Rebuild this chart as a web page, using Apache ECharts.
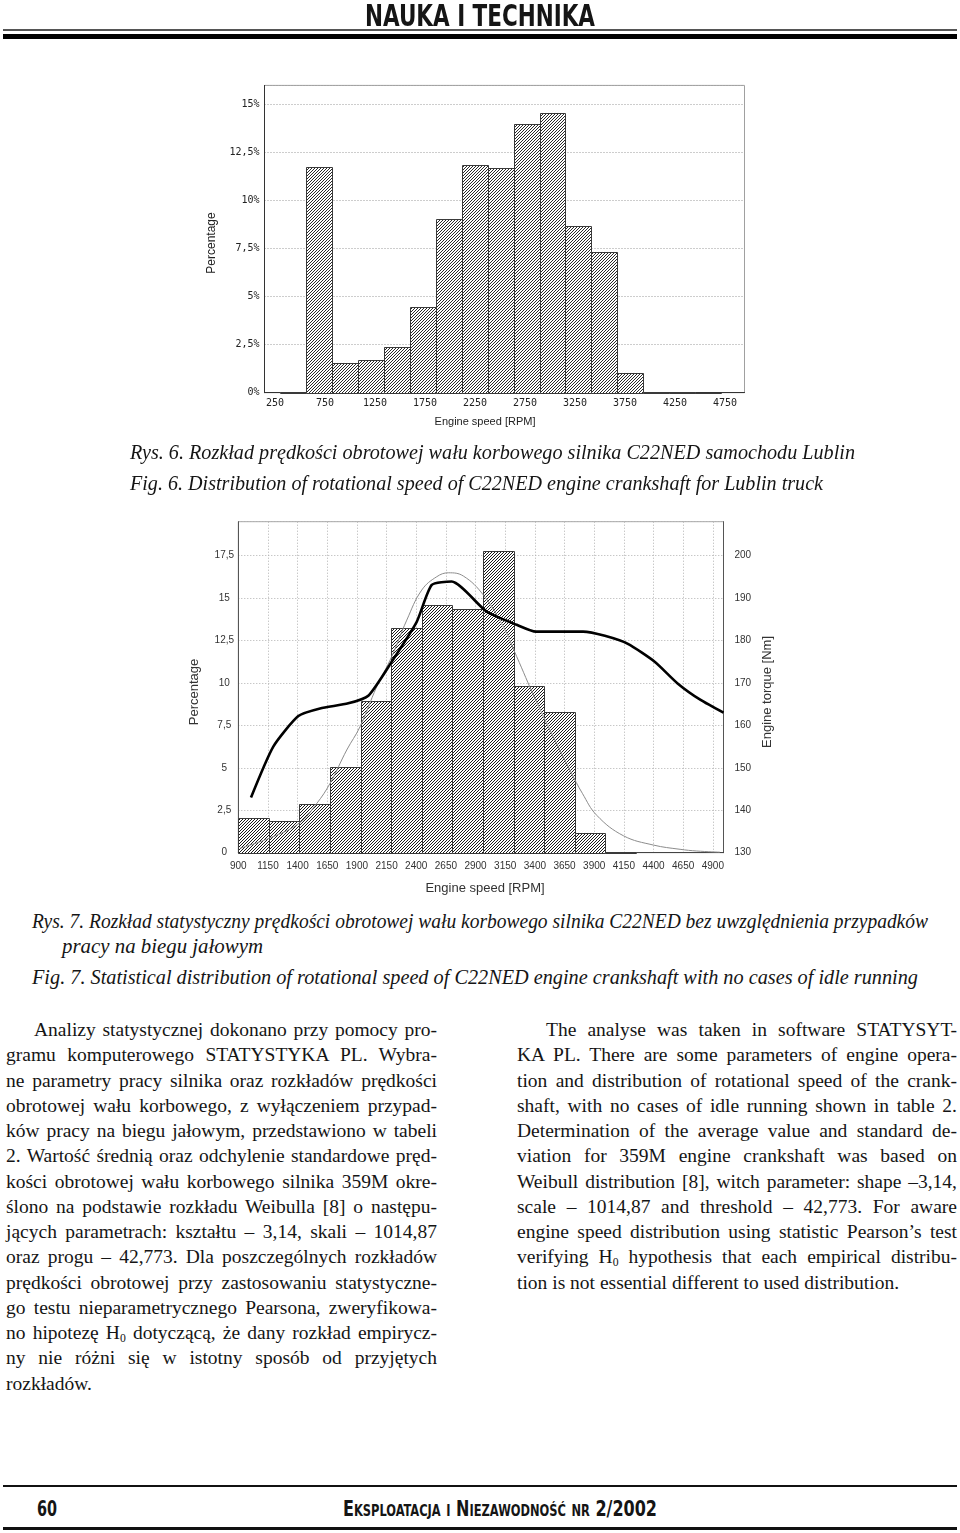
<!DOCTYPE html>
<html><head><meta charset="utf-8">
<script src="https://cdn.jsdelivr.net/npm/echarts@6/dist/echarts.min.js"></script>
<style>
html,body{margin:0;padding:0;background:#fff;}
#page{position:relative;width:960px;height:1533px;overflow:hidden;background:#fff;}
#chart{position:absolute;left:0;top:0;width:960px;height:905px;}
.t{position:absolute;white-space:nowrap;color:#151515;}
.t span{display:inline-block;transform-origin:0 50%;}
.t sub{font-size:60%;vertical-align:-0.25em;line-height:0;}
.rule{position:absolute;}
</style></head>
<body><div id="page"><div id="chart"></div></div>
<script>
// ---------- Fig. 6 data ----------
const fig6Edges = [300, 560, 820, 1080, 1340, 1600, 1855, 2115, 2375, 2635, 2895, 3150, 3410, 3670, 3930, 4190, 4445, 4705];
const fig6Share = [0.03, 11.74, 1.56, 1.70, 2.38, 4.46, 9.05, 11.84, 11.72, 13.98, 14.55, 8.67, 7.33, 1.01, 0.05, 0.02, 0.01];
const fig6XTicks = [250, 750, 1250, 1750, 2250, 2750, 3250, 3750, 4250, 4750];

// ---------- Fig. 7 data ----------
const fig7Edges = [900, 1158, 1415, 1673, 1931, 2189, 2447, 2705, 2963, 3221, 3479, 3737, 3995, 4253];
const fig7Share = [2.06, 1.87, 2.87, 5.03, 8.95, 13.21, 14.61, 14.33, 17.79, 9.80, 8.27, 1.14, 0.06];
const fitRpm = [914, 1159, 1412, 1561, 1673, 1814, 1926, 2067, 2193, 2320, 2446, 2573, 2671, 2797, 2966, 3134, 3247, 3400, 3550, 3700, 3800, 3922, 4146, 4399, 4624, 4765, 4960];
const fitShare = [0.26, 0.85, 1.73, 2.9, 4.08, 6.05, 7.42, 9.78, 11.55, 13.7, 15.47, 16.26, 16.49, 16.3, 15.18, 13.31, 11.55, 9.1, 6.9, 4.8, 3.5, 2.2, 1.0, 0.45, 0.2, 0.1, 0.03];
const torqueRpm = [1007, 1195, 1406, 1589, 1827, 1996, 2193, 2404, 2531, 2699, 2994, 3247, 3409, 3806, 3990, 4184, 4410, 4603, 4797, 4990];
const torqueNm = [143.0, 155.0, 162.2, 164.0, 165.2, 167.0, 175.0, 184.4, 193.1, 193.9, 186.8, 183.7, 182.1, 182.1, 181.1, 179.2, 175.0, 169.9, 166.0, 163.0];

function hatch(n, color) {
  const c = document.createElement('canvas'); c.width = n; c.height = n;
  const g = c.getContext('2d');
  g.fillStyle = '#fff'; g.fillRect(0, 0, n, n);
  g.fillStyle = color;
  for (let x = 0; x < n; x++) g.fillRect(x, n - 1 - x, 1, 1);
  return c;
}
const pat1 = hatch(3, '#2a2a2a');
const pat2 = hatch(3, '#1a1a1a');

function histRender(pat) {
  return function (params, api) {
    const a = api.coord([api.value(0), api.value(2)]);
    const b = api.coord([api.value(1), 0]);
    const x0 = Math.round(a[0]) + 0.5, x1 = Math.round(b[0]) + 0.5;
    const y0 = Math.round(a[1]) + 0.5, y1 = Math.round(b[1]) + 0.5;
    return {
      type: 'rect',
      shape: { x: x0, y: y0, width: x1 - x0, height: y1 - y0 },
      style: { fill: { image: pat, repeat: 'repeat' }, stroke: '#3a3a3a', lineWidth: 1 }
    };
  };
}
const comma = v => String(v).replace('.', ',');
const isStep = (v, s) => Math.abs(v / s - Math.round(v / s)) < 1e-6;

const dotted = { type: [1, 2], color: '#9a9a9a', width: 1 };
const sans = 'Liberation Sans, Arial, sans-serif';

const chart = echarts.init(document.getElementById('chart'), null, { renderer: 'canvas' });
chart.setOption({
  animation: false,
  grid: [
    { left: 264.5, top: 85.4, width: 480, height: 307.3, show: true, borderColor: '#a0a0a0', borderWidth: 1 },
    { left: 238.3, top: 521.7, width: 485.2, height: 331, show: true, borderColor: '#a8a8a8', borderWidth: 1 }
  ],
  xAxis: [
    { gridIndex: 0, type: 'value', min: 145, max: 4945,
      axisLine: { lineStyle: { color: '#333' } }, axisTick: { show: false }, splitLine: { show: false },
      axisLabel: { customValues: fig6XTicks, fontFamily: 'DejaVu Sans Mono', fontSize: 10, color: '#222', margin: 6,
        formatter: v => String(v) } },
    { gridIndex: 1, type: 'value', min: 900, max: 4990, interval: 250,
      axisLine: { lineStyle: { color: '#444' } }, axisTick: { show: false },
      splitLine: { show: true, lineStyle: { type: [1, 2], color: '#b0b0b0' } },
      axisLabel: { fontFamily: sans, fontSize: 10, color: '#333', margin: 9,
        formatter: v => (isStep(v - 900, 250) && v <= 4900) ? String(v) : '' } }
  ],
  yAxis: [
    { gridIndex: 0, type: 'value', min: 0, max: 16, interval: 2.5,
      axisLine: { show: true, lineStyle: { color: '#333' } }, axisTick: { show: false },
      splitLine: { show: true, lineStyle: dotted },
      axisLabel: { fontFamily: 'DejaVu Sans Mono', fontSize: 10, color: '#222', margin: 5,
        formatter: v => (isStep(v, 2.5) && v <= 15) ? comma(v) + '%' : '' } },
    { gridIndex: 1, type: 'value', min: 0, max: 19.5, interval: 2.5,
      axisLine: { show: true, lineStyle: { color: '#555' } }, axisTick: { show: false },
      splitLine: { show: true, lineStyle: { type: [1, 2], color: '#b0b0b0' } },
      axisLabel: { fontFamily: sans, fontSize: 10, color: '#333', margin: 14, align: 'center',
        formatter: v => (isStep(v, 2.5) && v <= 17.5) ? comma(v) : '' } },
    { gridIndex: 1, type: 'value', position: 'right', min: 130, max: 208, interval: 10,
      axisLine: { show: true, lineStyle: { color: '#555' } }, axisTick: { show: false },
      splitLine: { show: false },
      axisLabel: { fontFamily: sans, fontSize: 10, color: '#333', margin: 11,
        formatter: v => (isStep(v, 10) && v <= 200) ? String(v) : '' } }
  ],
  series: [
    { type: 'custom', xAxisIndex: 0, yAxisIndex: 0, renderItem: histRender(pat1),
      encode: { x: [0, 1], y: 2 },
      data: fig6Share.map((v, i) => [fig6Edges[i], fig6Edges[i + 1], v]) },
    { type: 'custom', xAxisIndex: 1, yAxisIndex: 1, renderItem: histRender(pat2),
      encode: { x: [0, 1], y: 2 },
      data: fig7Share.map((v, i) => [fig7Edges[i], fig7Edges[i + 1], v]) },
    { type: 'line', xAxisIndex: 1, yAxisIndex: 1, smooth: 0.4, symbol: 'none', z: 3,
      lineStyle: { color: '#8c8c8c', width: 1 },
      data: fitRpm.map((r, i) => [r, fitShare[i]]) },
    { type: 'line', xAxisIndex: 1, yAxisIndex: 2, smooth: 0.2, symbol: 'none', z: 4,
      lineStyle: { color: '#000', width: 2.6 },
      data: torqueRpm.map((r, i) => [r, torqueNm[i]]) }
  ],
  graphic: [
    { type: 'text', x: 212, y: 243, rotation: Math.PI / 2,
      style: { text: 'Percentage', font: '12px ' + sans, fill: '#222', align: 'center', verticalAlign: 'middle' } },
    { type: 'text', x: 485, y: 422,
      style: { text: 'Engine speed [RPM]', font: '11px ' + sans, fill: '#222', align: 'center', verticalAlign: 'middle' } },
    { type: 'text', x: 194, y: 692, rotation: Math.PI / 2,
      style: { text: 'Percentage', font: '13px ' + sans, fill: '#333', align: 'center', verticalAlign: 'middle' } },
    { type: 'text', x: 485, y: 888,
      style: { text: 'Engine speed [RPM]', font: '13px ' + sans, fill: '#333', align: 'center', verticalAlign: 'middle' } },
    { type: 'text', x: 767, y: 692, rotation: Math.PI / 2,
      style: { text: 'Engine torque [Nm]', font: '13px ' + sans, fill: '#333', align: 'center', verticalAlign: 'middle' } }
  ]
});

// ---------- page text ----------
const page = document.getElementById('page');
function rule(x, y, w, h, c) {
  const d = document.createElement('div'); d.className = 'rule';
  d.style.cssText = `left:${x}px;top:${y}px;width:${w}px;height:${h}px;background:${c}`;
  page.appendChild(d);
}
function line(html, x, y, w, font, lh, mode, extra) {
  const d = document.createElement('div'); d.className = 't';
  d.style.left = x + 'px'; d.style.top = (y - lh / 2) + 'px';
  d.style.lineHeight = lh + 'px'; d.style.font = font;
  if (extra) Object.assign(d.style, extra);
  const s = document.createElement('span'); s.innerHTML = html; d.appendChild(s);
  page.appendChild(d);
  const nat = s.getBoundingClientRect().width;
  if (mode === 'justify' && nat < w) {
    const n = (s.textContent.match(/ /g) || []).length;
    if (n) s.style.wordSpacing = ((w - nat) / n) + 'px';
  } else if (mode === 'fit' || nat > w) {
    s.style.transform = 'scaleX(' + (w / nat) + ')';
  }
}
const narrow = '"Liberation Sans Narrow", "DejaVu Sans Condensed", Arial, sans-serif';
const serif = '"Liberation Serif", "Times New Roman", serif';

// header
line('NAUKA I TECHNIKA', 365, 13, 230, 'bold 30px ' + narrow, 30, 'fit');
rule(3, 29, 954, 1.5, '#555');
rule(3, 34, 954, 5, '#000');

// captions
const capFont = 'italic 22px ' + serif;
line('Rys. 6. Rozkład prędkości obrotowej wału korbowego silnika C22NED samochodu Lublin', 130, 452, 725, capFont, 26, 'fit');
line('Fig. 6. Distribution of rotational speed of C22NED engine crankshaft for Lublin truck', 130, 483, 693, capFont, 26, 'fit');
line('Rys. 7. Rozkład statystyczny prędkości obrotowej wału korbowego silnika C22NED bez uwzględnienia przypadków', 32, 921, 896, capFont, 26, 'fit');
line('pracy na biegu jałowym', 62, 946, 201, capFont, 26, 'fit');
line('Fig. 7. Statistical distribution of rotational speed of C22NED engine crankshaft with no cases of idle running', 32, 977, 886, capFont, 26, 'fit');

// body columns
const bodyFont = '19.5px ' + serif;
const leftLines = [
  'Analizy statystycznej dokonano przy pomocy pro-',
  'gramu komputerowego STATYSTYKA PL. Wybra-',
  'ne parametry pracy silnika oraz rozkładów prędkości',
  'obrotowej wału korbowego, z wyłączeniem przypad-',
  'ków pracy na biegu jałowym, przedstawiono w tabeli',
  '2. Wartość średnią oraz odchylenie standardowe pręd-',
  'kości obrotowej wału korbowego silnika 359M okre-',
  'ślono na podstawie rozkładu Weibulla [8] o następu-',
  'jących parametrach: kształtu – 3,14, skali – 1014,87',
  'oraz progu – 42,773. Dla poszczególnych rozkładów',
  'prędkości obrotowej przy zastosowaniu statystyczne-',
  'go testu nieparametrycznego Pearsona, zweryfikowa-',
  'no hipotezę H<sub>0</sub> dotyczącą, że dany rozkład empirycz-',
  'ny nie różni się w istotny sposób od przyjętych',
  'rozkładów.'
];
const rightLines = [
  'The analyse was taken in software STATYSYT-',
  'KA PL. There are some parameters of engine opera-',
  'tion and distribution of rotational speed of the crank-',
  'shaft, with no cases of idle running shown in table 2.',
  'Determination of the average value and standard de-',
  'viation for 359M engine crankshaft was based on',
  'Weibull distribution [8], witch parameter: shape –3,14,',
  'scale – 1014,87 and threshold – 42,773. For aware',
  'engine speed distribution using statistic Pearson’s test',
  'verifying H<sub>0</sub> hypothesis that each empirical distribu-',
  'tion is not essential different to used distribution.'
];
leftLines.forEach((t, i) => {
  const first = i === 0, last = i === leftLines.length - 1;
  line(t, first ? 34 : 6, 1031 + i * 25.25, first ? 403 : 431, bodyFont, 24, last ? 'left' : 'justify');
});
rightLines.forEach((t, i) => {
  const first = i === 0, last = i === rightLines.length - 1;
  line(t, first ? 546 : 517, 1031 + i * 25.25, first ? 411 : 440, bodyFont, 24, last ? 'left' : 'justify');
});

// footer
rule(3, 1485, 954, 2, '#111');
line('60', 37, 1509, 20, 'bold 21px ' + narrow, 24, 'fit');
line('Eksploatacja i Niezawodność nr 2/2002', 343, 1509, 314, 'bold 21px ' + narrow, 24, 'fit', { fontVariant: 'small-caps' });
rule(3, 1527, 954, 3, '#111');
</script>
</body></html>
